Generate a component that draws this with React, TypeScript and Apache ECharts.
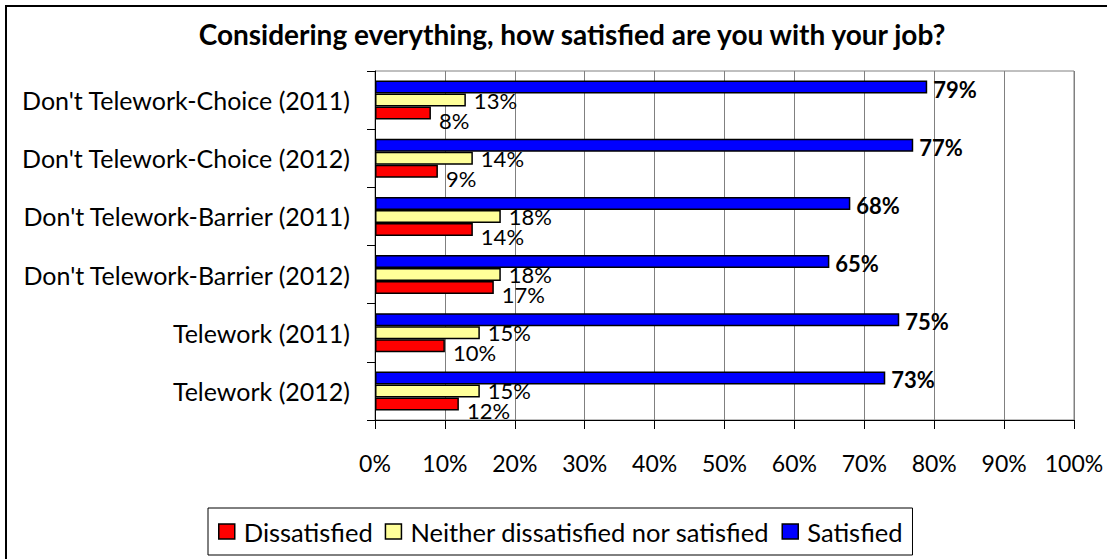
import React, { useEffect, useRef } from "react";
import * as echarts from "echarts";

const categories = [
  "Don't Telework-Choice (2011)",
  "Don't Telework-Choice (2012)",
  "Don't Telework-Barrier (2011)",
  "Don't Telework-Barrier (2012)",
  "Telework (2011)",
  "Telework (2012)",
];
const satisfied = [79, 77, 68, 65, 75, 73];
const neither = [13, 14, 18, 18, 15, 15];
const dissatisfied = [8, 9, 14, 17, 10, 12];
const xTicks = [0, 10, 20, 30, 40, 50, 60, 70, 80, 90, 100];
const titleText = "Considering everything, how satisfied are you with your job?";

const FONT = "Lato, 'Open Sans', sans-serif";

export default function App() {
  const ref = useRef<HTMLDivElement>(null);
  useEffect(() => {
    document.body.style.margin = "0";
    const chart = echarts.init(ref.current!, undefined, { renderer: "svg" });
    const barBase = {
      type: "bar" as const,
      barGap: "0%",
      barCategoryGap: "33%",
    };
    chart.setOption({
      animation: false,
      backgroundColor: "#fff",
      textStyle: { fontFamily: FONT, color: "#000" },
      title: {
        text: titleText,
        left: 567,
        top: 15,
        textAlign: "center",
        textStyle: { fontFamily: FONT, fontWeight: "bold", fontSize: 28, color: "#000" },
      },
      graphic: [
        {
          type: "rect",
          shape: { x: 6, y: 6, width: 1200, height: 600 },
          style: { fill: "none", stroke: "#000", lineWidth: 2 },
          z: -1,
        },
      ],
      legend: {
        left: 208,
        top: 508,
        orient: "horizontal",
        data: ["Dissatisfied", "Neither dissatisfied nor satisfied", "Satisfied"],
        itemWidth: 16,
        itemHeight: 15,
        itemGap: 12,
        padding: [8, 10, 8, 10],
        borderColor: "#000",
        borderWidth: 1,
        icon: "rect",
        itemStyle: { borderColor: "#000", borderWidth: 1.5 },
        textStyle: {
          fontFamily: FONT,
          fontSize: 25.5,
          lineHeight: 31,
          color: "#000",
          padding: [0, 0, 0, 4],
        },
      },
      grid: {
        left: 375,
        right: 33,
        top: 71,
        bottom: 139,
        show: true,
        borderColor: "#808080",
        borderWidth: 1,
        containLabel: false,
      },
      xAxis: {
        type: "value",
        min: 0,
        max: 100,
        interval: 10,
        axisLine: { show: true, lineStyle: { color: "#000", width: 1 } },
        axisTick: { show: true, length: 9, lineStyle: { color: "#000" } },
        splitLine: { show: true, lineStyle: { color: "#808080", width: 1 } },
        axisLabel: {
          margin: 31,
          fontFamily: FONT,
          fontSize: 23,
          color: "#000",
          formatter: (v: number) => (xTicks.includes(v) ? v + "%" : ""),
        },
      },
      yAxis: {
        type: "category",
        data: categories,
        inverse: true,
        axisLine: { show: true, lineStyle: { color: "#000", width: 1 } },
        axisTick: { show: true, length: 8, lineStyle: { color: "#000" } },
        axisLabel: { margin: 25, fontFamily: FONT, fontSize: 25, color: "#000" },
        splitLine: { show: false },
      },
      series: [
        {
          ...barBase,
          name: "Satisfied",
          data: satisfied,
          itemStyle: { color: "#0000FF", borderColor: "#000", borderWidth: 1.5 },
          label: {
            show: true,
            position: "right",
            distance: 6,
            offset: [0, 2],
            formatter: "{c}%",
            fontFamily: FONT,
            fontSize: 22,
            fontWeight: "bold",
            color: "#000",
          },
        },
        {
          ...barBase,
          name: "Neither dissatisfied nor satisfied",
          data: neither,
          itemStyle: { color: "#FFFF99", borderColor: "#000", borderWidth: 1.5 },
          label: {
            show: true,
            position: "right",
            distance: 8,
            formatter: "{c}%",
            fontFamily: FONT,
            fontSize: 22,
            color: "#000",
          },
        },
        {
          ...barBase,
          name: "Dissatisfied",
          data: dissatisfied,
          itemStyle: { color: "#FF0000", borderColor: "#000", borderWidth: 1.5 },
          label: {
            show: true,
            position: "right",
            distance: 8,
            offset: [0, 7],
            formatter: "{c}%",
            fontFamily: FONT,
            fontSize: 22,
            color: "#000",
          },
        },
      ],
    });
    return () => chart.dispose();
  }, []);
  return <div ref={ref} style={{ width: 1107, height: 559 }} />;
}
